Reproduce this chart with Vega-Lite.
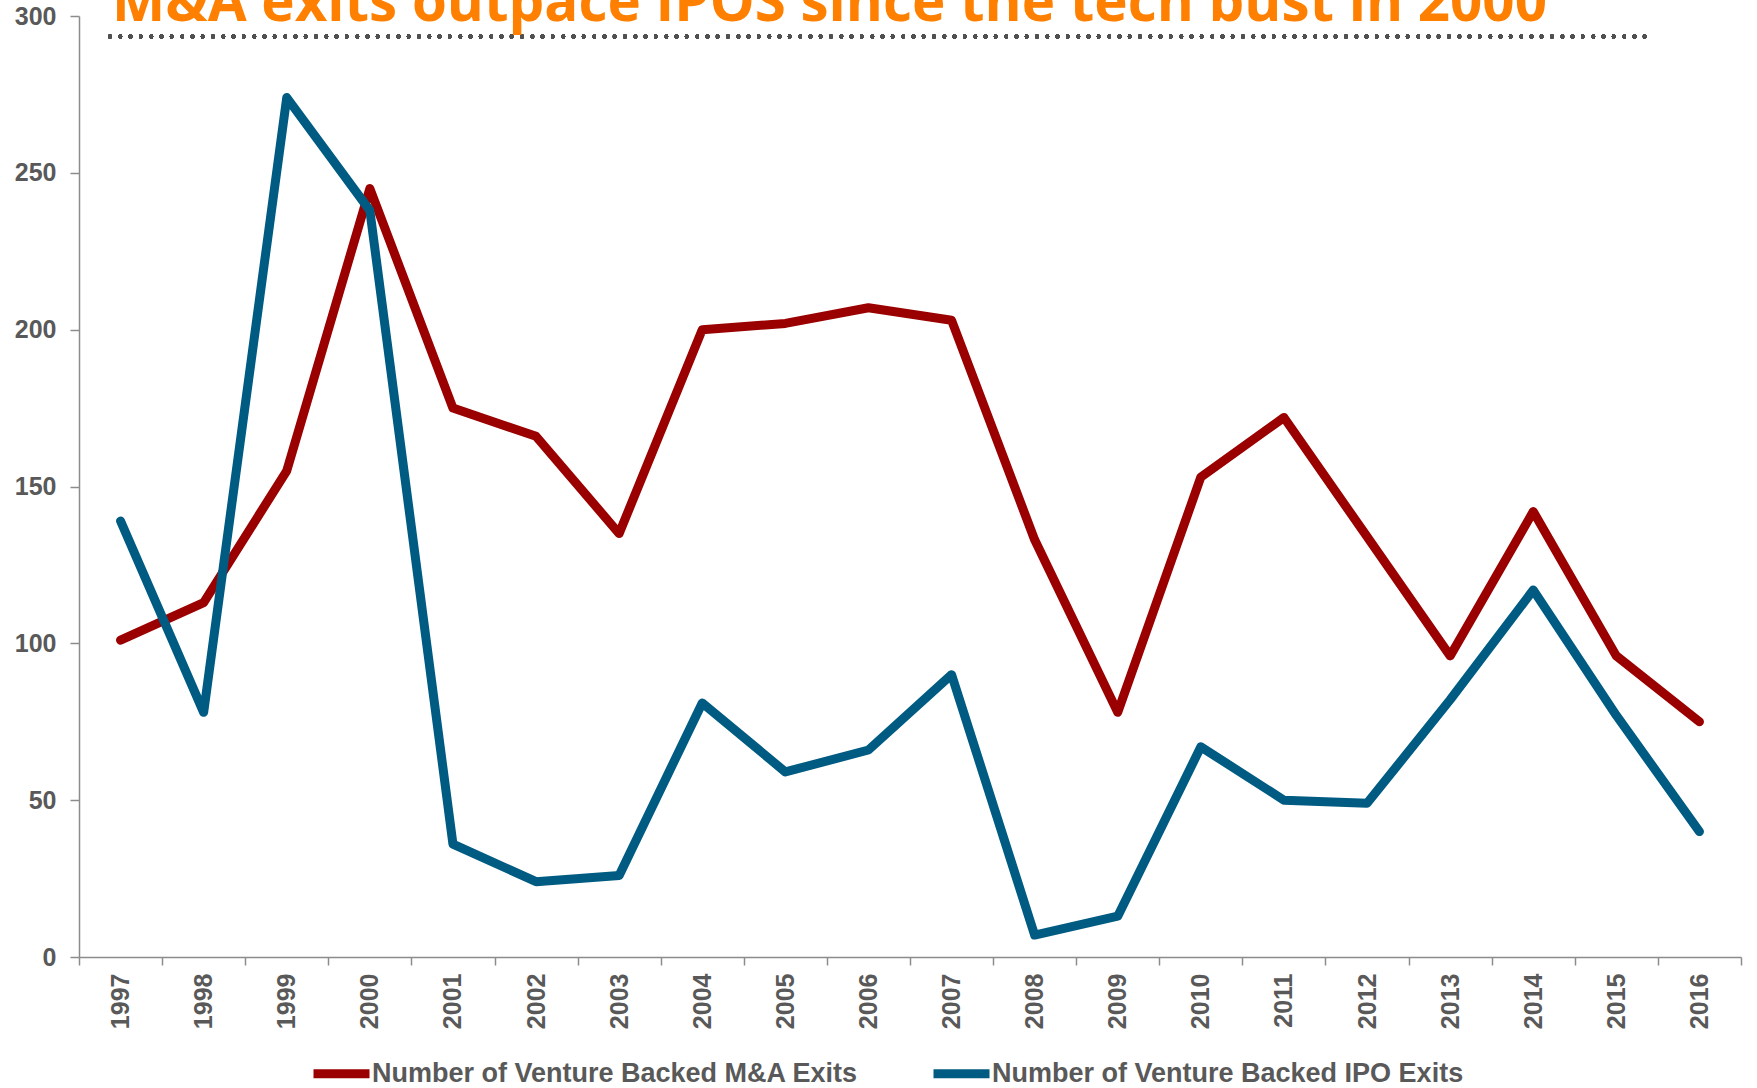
{
  "$schema": "https://vega.github.io/schema/vega-lite/v6.json",
  "autosize": {"type": "none"},
  "padding": {"left": 79, "top": 16, "right": 16, "bottom": 131},
  "width": 1662,
  "height": 941,
  "background": "white",
  "title": {
    "text": "M&A exits outpace IPOS since the tech bust in 2000",
    "font": "Open Sans",
    "fontWeight": "bold",
    "fontSize": 56.5,
    "color": "#FF8000",
    "anchor": "start",
    "frame": "group",
    "baseline": "alphabetic",
    "dx": 33,
    "dy": 47,
    "offset": -26
  },
  "data": {
    "values": [
      {"year": "1997", "series": "Number of Venture Backed M&A Exits", "value": 101},
      {"year": "1998", "series": "Number of Venture Backed M&A Exits", "value": 113},
      {"year": "1999", "series": "Number of Venture Backed M&A Exits", "value": 155},
      {"year": "2000", "series": "Number of Venture Backed M&A Exits", "value": 245},
      {"year": "2001", "series": "Number of Venture Backed M&A Exits", "value": 175},
      {"year": "2002", "series": "Number of Venture Backed M&A Exits", "value": 166},
      {"year": "2003", "series": "Number of Venture Backed M&A Exits", "value": 135},
      {"year": "2004", "series": "Number of Venture Backed M&A Exits", "value": 200},
      {"year": "2005", "series": "Number of Venture Backed M&A Exits", "value": 202},
      {"year": "2006", "series": "Number of Venture Backed M&A Exits", "value": 207},
      {"year": "2007", "series": "Number of Venture Backed M&A Exits", "value": 203},
      {"year": "2008", "series": "Number of Venture Backed M&A Exits", "value": 133},
      {"year": "2009", "series": "Number of Venture Backed M&A Exits", "value": 78},
      {"year": "2010", "series": "Number of Venture Backed M&A Exits", "value": 153},
      {"year": "2011", "series": "Number of Venture Backed M&A Exits", "value": 172},
      {"year": "2012", "series": "Number of Venture Backed M&A Exits", "value": 134},
      {"year": "2013", "series": "Number of Venture Backed M&A Exits", "value": 96},
      {"year": "2014", "series": "Number of Venture Backed M&A Exits", "value": 142},
      {"year": "2015", "series": "Number of Venture Backed M&A Exits", "value": 96},
      {"year": "2016", "series": "Number of Venture Backed M&A Exits", "value": 75},
      {"year": "1997", "series": "Number of Venture Backed IPO Exits", "value": 139},
      {"year": "1998", "series": "Number of Venture Backed IPO Exits", "value": 78},
      {"year": "1999", "series": "Number of Venture Backed IPO Exits", "value": 274},
      {"year": "2000", "series": "Number of Venture Backed IPO Exits", "value": 238},
      {"year": "2001", "series": "Number of Venture Backed IPO Exits", "value": 36},
      {"year": "2002", "series": "Number of Venture Backed IPO Exits", "value": 24},
      {"year": "2003", "series": "Number of Venture Backed IPO Exits", "value": 26},
      {"year": "2004", "series": "Number of Venture Backed IPO Exits", "value": 81},
      {"year": "2005", "series": "Number of Venture Backed IPO Exits", "value": 59},
      {"year": "2006", "series": "Number of Venture Backed IPO Exits", "value": 66},
      {"year": "2007", "series": "Number of Venture Backed IPO Exits", "value": 90},
      {"year": "2008", "series": "Number of Venture Backed IPO Exits", "value": 7},
      {"year": "2009", "series": "Number of Venture Backed IPO Exits", "value": 13},
      {"year": "2010", "series": "Number of Venture Backed IPO Exits", "value": 67},
      {"year": "2011", "series": "Number of Venture Backed IPO Exits", "value": 50},
      {"year": "2012", "series": "Number of Venture Backed IPO Exits", "value": 49},
      {"year": "2013", "series": "Number of Venture Backed IPO Exits", "value": 82},
      {"year": "2014", "series": "Number of Venture Backed IPO Exits", "value": 117},
      {"year": "2015", "series": "Number of Venture Backed IPO Exits", "value": 77},
      {"year": "2016", "series": "Number of Venture Backed IPO Exits", "value": 40}
    ]
  },
  "layer": [
    {
      "mark": {"type": "line", "strokeWidth": 9, "strokeCap": "round", "strokeJoin": "round"},
      "encoding": {
        "x": {
          "field": "year",
          "type": "ordinal",
          "bandPosition": 0.5,
          "scale": {"type": "band", "paddingInner": 0, "paddingOuter": 0},
          "axis": {
            "title": null,
            "labelAngle": 270,
            "labelAlign": "right",
            "labelBaseline": "middle",
            "tickBand": "extent",
            "tickSize": 8,
            "labelPadding": 8,
            "labelFont": "Liberation Sans",
            "labelFontWeight": "bold",
            "labelFontSize": 25,
            "labelColor": "#595959",
            "domainColor": "#8C8C8C",
            "tickColor": "#8C8C8C",
            "domainWidth": 1.5,
            "tickWidth": 1.5,
            "grid": false
          }
        },
        "y": {
          "field": "value",
          "type": "quantitative",
          "scale": {"domain": [0, 300], "nice": false},
          "axis": {
            "title": null,
            "values": [0, 50, 100, 150, 200, 250, 300],
            "tickSize": 9,
            "labelPadding": 14,
            "labelFont": "Liberation Sans",
            "labelFontWeight": "bold",
            "labelFontSize": 25,
            "labelColor": "#595959",
            "domainColor": "#8C8C8C",
            "tickColor": "#8C8C8C",
            "domainWidth": 1.5,
            "tickWidth": 1.5,
            "grid": false
          }
        },
        "color": {
          "field": "series",
          "type": "nominal",
          "scale": {
            "domain": ["Number of Venture Backed M&A Exits", "Number of Venture Backed IPO Exits"],
            "range": ["#9B0000", "#005B82"]
          },
          "legend": {
            "title": null,
            "orient": "none",
            "direction": "horizontal",
            "legendX": 230,
            "legendY": 1025,
            "symbolType": "stroke",
            "symbolSize": 3136,
            "symbolStrokeWidth": 9,
            "labelOffset": -2,
            "columnPadding": 56,
            "labelFont": "Liberation Sans",
            "labelFontWeight": "bold",
            "labelFontSize": 27,
            "labelColor": "#595959",
            "labelLimit": 800,
            "padding": 0
          }
        }
      }
    },
    {
      "mark": {"type": "rule", "strokeWidth": 4, "strokeCap": "round", "strokeDash": [0, 10.3], "color": "#505050"},
      "encoding": {
        "x": {"datum": 0.373, "type": "quantitative", "scale": {"domain": [0, 20]}, "axis": null},
        "x2": {"datum": 18.93},
        "y": {"datum": 293.5, "type": "quantitative"}
      }
    }
  ],
  "resolve": {"scale": {"x": "independent"}},
  "config": {"view": {"stroke": null}}
}
